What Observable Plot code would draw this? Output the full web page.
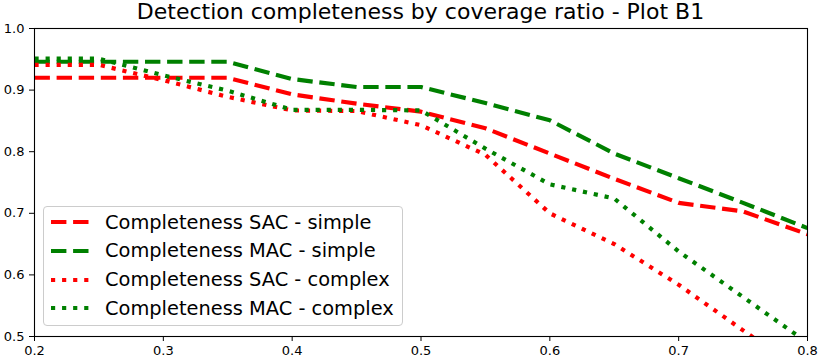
<!DOCTYPE html>
<html>
<head>
<meta charset="utf-8">
<script src="https://cdn.jsdelivr.net/npm/d3@7"></script>
<script src="https://cdn.jsdelivr.net/npm/@observablehq/plot@0.6"></script>
<style>
  html, body { margin: 0; padding: 0; background: #fff; }
  #wrap { position: relative; width: 825px; height: 363px; font-family: "DejaVu Sans", sans-serif; }
  #title { position: relative; top: 3px; height: 18px; line-height: 18px; font-size: 22px; padding-left: 34px; width: 773px; text-align: center; color: #000; white-space: nowrap; }
  #legend { position: absolute; left: 43px; top: 206px; width: 358px; height: 118px; border: 1px solid #cccccc; border-radius: 4px; background: rgba(255,255,255,0.85); }
  .row { position: absolute; left: 0; height: 28px; display: flex; align-items: center; }
  .row svg { margin-left: 7px; }
  .row span { font-size: 19.4px; margin-left: 15px; color: #000; white-space: nowrap; }
</style>
</head>
<body>
<div id="wrap">
  <div id="title"></div>
  <div id="chart"></div>
  <div id="legend"></div>
</div>
<script>
const titleText = "Detection completeness by coverage ratio - Plot B1";
const coverage = [0.2, 0.25, 0.3, 0.35, 0.4, 0.45, 0.5, 0.55, 0.6, 0.65, 0.7, 0.75, 0.8];
const sacSimple  = [0.920, 0.920, 0.920, 0.920, 0.893, 0.878, 0.865, 0.838, 0.797, 0.756, 0.717, 0.703, 0.666];
const macSimple  = [0.946, 0.946, 0.946, 0.946, 0.918, 0.905, 0.905, 0.879, 0.851, 0.797, 0.757, 0.717, 0.676];
const sacComplex = [0.941, 0.941, 0.916, 0.889, 0.867, 0.866, 0.843, 0.795, 0.700, 0.650, 0.584, 0.510, 0.437];
const macComplex = [0.951, 0.951, 0.924, 0.899, 0.868, 0.868, 0.867, 0.805, 0.747, 0.724, 0.638, 0.564, 0.490];
const seriesNames = ["Completeness SAC - simple", "Completeness MAC - simple", "Completeness SAC - complex", "Completeness MAC - complex"];
const seriesColors = ["red", "green", "red", "green"];
const seriesDash = ["15.4,6.7", "15.4,6.7", "4.17,6.9", "4.17,6.9"];
const xTicks = [0.2, 0.3, 0.4, 0.5, 0.6, 0.7, 0.8];
const yTicks = [0.5, 0.6, 0.7, 0.8, 0.9, 1.0];

const seriesValues = [sacSimple, macSimple, sacComplex, macComplex];
const data = seriesNames.flatMap((name, s) => coverage.map((x, i) => ({x, y: seriesValues[s][i], name})));

document.getElementById("title").textContent = titleText;

const chart = Plot.plot({
  width: 825,
  height: 345,
  marginTop: 10,
  marginBottom: 27,
  marginLeft: 34,
  marginRight: 18,
  style: {fontFamily: "DejaVu Sans", fontSize: "13px", color: "#000", background: "#fff"},
  x: {domain: [0.2, 0.8], ticks: xTicks, tickFormat: d3.format(".1f"), tickSize: 5, tickPadding: 4, label: null},
  y: {domain: [0.5, 1.0], ticks: yTicks, tickFormat: d3.format(".1f"), tickSize: 5, tickPadding: 5, label: null},
  marks: [
    ...seriesNames.map((name, s) => Plot.line(data.filter(d => d.name === name), {
      x: "x", y: "y",
      stroke: seriesColors[s],
      strokeWidth: 4.17,
      strokeDasharray: seriesDash[s],
      strokeLinecap: "butt",
      strokeLinejoin: "round",
      clip: true
    })),
    Plot.frame({stroke: "#000", strokeWidth: 1.1})
  ]
});
document.getElementById("chart").appendChild(chart);

const legend = document.getElementById("legend");
seriesNames.forEach((name, s) => {
  const row = document.createElement("div");
  row.className = "row";
  row.style.top = (1.4 + s * 28.55) + "px";
  const ns = "http://www.w3.org/2000/svg";
  const svg = document.createElementNS(ns, "svg");
  svg.setAttribute("width", "39");
  svg.setAttribute("height", "10");
  const ln = document.createElementNS(ns, "line");
  ln.setAttribute("x1", "0"); ln.setAttribute("x2", "39");
  ln.setAttribute("y1", "5"); ln.setAttribute("y2", "5");
  ln.setAttribute("stroke", seriesColors[s]);
  ln.setAttribute("stroke-width", "4.17");
  ln.setAttribute("stroke-dasharray", seriesDash[s]);
  svg.appendChild(ln);
  row.appendChild(svg);
  const sp = document.createElement("span");
  sp.textContent = name;
  row.appendChild(sp);
  legend.appendChild(row);
});
</script>
</body>
</html>
